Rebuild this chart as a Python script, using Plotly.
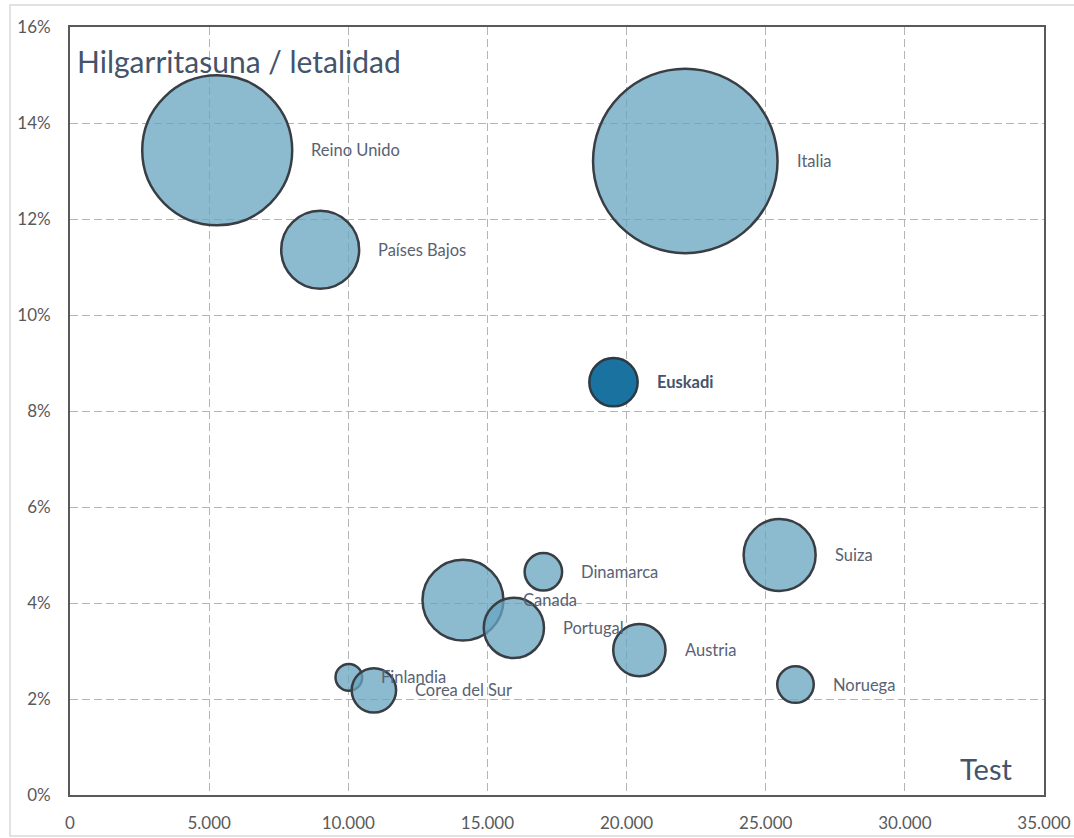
import math
import plotly.graph_objects as go

# ---- data ----
paises = ["Reino Unido", "Italia", "Países Bajos", "Suiza", "Dinamarca", "Canada",
          "Portugal", "Austria", "Noruega", "Finlandia", "Corea del Sur"]
test = [5290, 22110, 8990, 25500, 17010, 14120, 15950, 20460, 26070, 10020, 10920]
letalidad = [0.1343, 0.1321, 0.1136, 0.0500, 0.0465, 0.0406, 0.0348, 0.0302, 0.0230, 0.0245, 0.0218]
casos = [105400, 159500, 28470, 24310, 6590, 30680, 16980, 12820, 6250, 3330, 9240]

eus_nombre = ["Euskadi"]
eus_test = [19530]
eus_letalidad = [0.0860]
eus_casos = [10950]

x_ticks = [0, 5000, 10000, 15000, 20000, 25000, 30000, 35000]
y_ticks = [0, 0.02, 0.04, 0.06, 0.08, 0.10, 0.12, 0.14, 0.16]

# ---- style ----
FONT = "Lato, 'Open Sans', sans-serif"
LW = 2.5
DMAX = 184.5
cmax = max(casos + eus_casos)
sizeref = 2.0 * cmax / (DMAX ** 2)

W, H = 1074, 838
L, T = 70, 27
R = W - 1044
B = H - 795
PW, PH = W - L - R, H - T - B

fig = go.Figure()
fig.add_trace(go.Scatter(
    x=test, y=letalidad, mode="markers",
    marker=dict(size=casos, sizemode="area", sizeref=sizeref, sizemin=0, opacity=1,
                color="rgba(104,164,192,0.76)",
                line=dict(color="#393e44", width=LW)),
    hoverinfo="skip", showlegend=False))
fig.add_trace(go.Scatter(
    x=eus_test, y=eus_letalidad, mode="markers",
    marker=dict(size=eus_casos, sizemode="area", sizeref=sizeref, sizemin=0, opacity=1,
                color="#1a72a0",
                line=dict(color="#2c3a44", width=LW)),
    hoverinfo="skip", showlegend=False))

def radius(c):
    return DMAX / 2.0 * math.sqrt(c / cmax) + LW / 2.0

annotations = []
for n, xv, yv, c in zip(paises, test, letalidad, casos):
    annotations.append(dict(x=xv, y=yv, xref="x", yref="y", text=n, showarrow=False,
                            xanchor="left", yanchor="middle", xshift=radius(c) + 16,
                            font=dict(family=FONT, size=16.5, color="#586273")))
for n, xv, yv, c in zip(eus_nombre, eus_test, eus_letalidad, eus_casos):
    annotations.append(dict(x=xv, y=yv, xref="x", yref="y", text="<b>" + n + "</b>",
                            showarrow=False, xanchor="left", yanchor="middle",
                            xshift=radius(c) + 16,
                            font=dict(family=FONT, size=16.5, color="#44546a")))

annotations.append(dict(x=0, y=1, xref="paper", yref="paper", text="Hilgarritasuna / letalidad",
                        showarrow=False, xanchor="left", yanchor="top", xshift=5, yshift=-14,
                        font=dict(family=FONT, size=30, color="#44546a")))
annotations.append(dict(x=1, y=0, xref="paper", yref="paper", text="Test",
                        showarrow=False, xanchor="right", yanchor="bottom", xshift=-30, yshift=7,
                        font=dict(family=FONT, size=29, color="#44546a")))

# outer light border of the chart area (px: left 10, top 5, bottom 836)
shapes = [dict(type="rect", xref="paper", yref="paper",
               x0=(10 - L) / PW, x1=(W + 40 - L) / PW,
               y0=(T + PH - 836) / PH, y1=(T + PH - 5) / PH,
               line=dict(color="#d9d9d9", width=1.5), fillcolor="rgba(0,0,0,0)", layer="below")]

axis_common = dict(showgrid=True, gridcolor="#b4b4b4", gridwidth=1, griddash="8px,4px",
                   showline=True, mirror=True, linecolor="#595959", linewidth=1.8,
                   zeroline=False, ticks="", fixedrange=True, automargin=False,
                   tickfont=dict(family=FONT, size=17, color="#595959"))

fig.update_layout(
    width=W, height=H,
    margin=dict(l=L, r=R, t=T, b=B, autoexpand=False),
    paper_bgcolor="white", plot_bgcolor="white",
    separators=",.",
    xaxis=dict(range=[0, 35000], tickvals=x_ticks, tickformat=",d",
               ticklabelstandoff=12, **axis_common),
    yaxis=dict(range=[0, 0.16], tickvals=y_ticks, tickformat=".0%",
               ticklabelstandoff=14, **axis_common),
    annotations=annotations,
    shapes=shapes,
    showlegend=False,
)

fig.write_html("out.html",
               config={"displayModeBar": False},
               post_script="document.body.style.margin='0';"
                           "document.documentElement.style.overflow='hidden';")
